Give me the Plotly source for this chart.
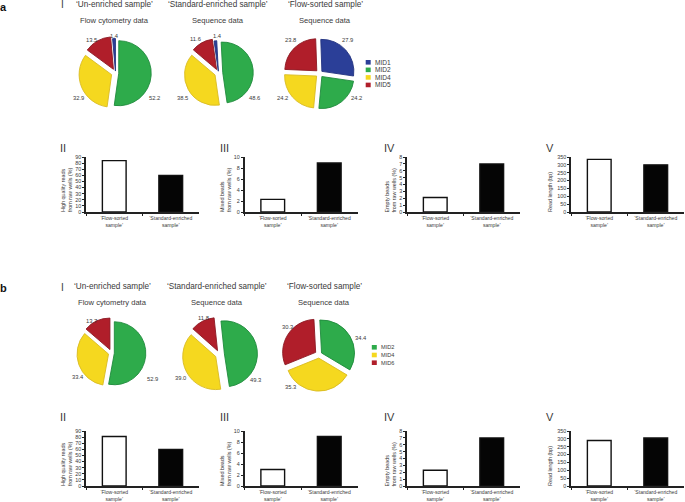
import plotly.graph_objects as go

W, H = 685, 502
FONT = "Liberation Sans, Arial, sans-serif"
TXT = "#3a3a3a"

# ---------- data ----------
COLOURS = {"MID1": "#2b3f98", "MID2": "#2eab4b", "MID4": "#f5d81f", "MID5": "#b01e2a"}
EDGES = {"MID1": "#233380", "MID2": "#1f8a3c", "MID4": "#d9bb22", "MID5": "#8c1822"}

a_labels = ["MID1", "MID2", "MID4", "MID5"]
a_unenriched = [1.4, 52.2, 32.9, 13.5]
a_standard = [1.4, 48.6, 38.5, 11.6]
a_flow = [27.9, 24.2, 24.2, 23.8]

b_labels = ["MID2", "MID4", "MID5"]
b_legend = ["MID2", "MID4", "MID6"]
b_unenriched = [52.9, 33.4, 13.7]
b_standard = [49.3, 39.0, 11.8]
b_flow = [34.4, 35.3, 30.3]

bar_categories = ["‘Flow-sorted<br>sample’", "‘Standard-enriched<br>sample’"]
a_high_quality = [84, 60]
a_mixed = [2.3, 8.9]
a_empty = [2.1, 7.0]
a_length = [335, 300]
b_high_quality = [81, 60]
b_mixed = [3.0, 9.0]
b_empty = [2.3, 7.0]
b_length = [290, 305]

y_titles = ["High quality reads<br>from raw wells (%)", "Mixed beads<br>from raw wells (%)",
            "Empty beads<br>from raw wells (%)", "Read length (bp)"]
roman = ["II", "III", "IV", "V"]
y_ranges = [90, 10, 8, 350]
y_dticks = [10, 2, 1, 50]
# ---------------------------

fig = go.Figure()
ann = []
shapes = []


def px(x):
    return x / W


def py(y):
    return 1 - y / H


def text(x, y, s, size=5.6, color=TXT, bold=False, angle=0, anchor="center", align="center"):
    ann.append(dict(x=px(x), y=py(y), xref="paper", yref="paper", text=f"<b>{s}</b>" if bold else s,
                    showarrow=False, font=dict(size=size, color=color, family=FONT), textangle=angle,
                    xanchor=anchor, yanchor="middle", align=align))


def pie(labels, values, cx, cy, r, pull, rotation):
    half = r * (1 + max(pull))
    fig.add_trace(go.Pie(
        labels=labels, values=values, sort=False, direction="clockwise", rotation=rotation,
        pull=pull, textinfo="none", hoverinfo="label+value", showlegend=False,
        marker=dict(colors=[COLOURS[l] for l in labels],
                    line=dict(color=[EDGES[l] for l in labels], width=0.9)),
        domain=dict(x=[px(cx - half), px(cx + half)], y=[py(cy + half), py(cy - half)]),
    ))


def pie_labels(values, positions):
    for v, (x, y) in zip(values, positions):
        text(x, y, f"{v:.1f}", size=5.8)


# Panel a pies
pie(a_labels, a_unenriched, 115.5, 73, 32.5, [0.06, 0.1, 0.13, 0.13], -5)
pie(a_labels, a_standard, 218.5, 73, 30.5, [0.06, 0.14, 0.13, 0.13], -8)
pie(a_labels, a_flow, 319.5, 73.5, 32, [0.1, 0.12, 0.12, 0.12], -2)
pie_labels(a_unenriched, [(115, 36), (154, 98), (78, 97.5), (91, 40)])
pie_labels(a_standard, [(217, 36), (254, 97.5), (183, 97.5), (196, 39)])
pie_labels(a_flow, [(348, 40), (356, 97.5), (282, 97.5), (290, 40)])

# Panel b pies
pie(b_labels, b_unenriched, 111.5, 353, 31.5, [0.09, 0.1, 0.12], 0)
pie(b_labels, b_standard, 219.5, 354.5, 33, [0.15, 0.13, 0.13], -6)
pie(b_labels, b_flow, 319, 354.5, 33, [0.09, 0.11, 0.12], -3)
pie_labels(b_unenriched, [(152, 379), (78, 377), (91, 321)])
pie_labels(b_standard, [(256, 380), (180, 378), (203, 318)])
pie_labels(b_flow, [(361, 338), (290, 387), (287, 327)])

# Bars
col_x = [86, 244.5, 407, 571]
panel_w = 113


def bars(idx, vals, top, bottom, kx):
    ax = f"xaxis{kx}"
    ay = f"yaxis{kx}"
    fig.add_trace(go.Bar(
        x=bar_categories, y=vals, xaxis=f"x{kx}", yaxis=f"y{kx}", width=0.42, showlegend=False,
        marker=dict(color=["#ffffff", "#050505"], line=dict(color="#111111", width=1.4)),
    ))
    x0 = col_x[idx]
    fig.layout[ax] = dict(domain=[px(x0), px(x0 + panel_w)], anchor=f"y{kx}", type="category",
                          showgrid=False, zeroline=False, showline=True, linecolor="#222222", linewidth=2,
                          ticks="outside", ticklen=1.5, tickwidth=1, tickson="boundaries", tickcolor="#222222",
                          tickfont=dict(size=5.1, color=TXT, family=FONT), tickangle=0, automargin=False)
    fig.layout[ay] = dict(domain=[py(bottom), py(top)], anchor=f"x{kx}", range=[0, y_ranges[idx]],
                          dtick=y_dticks[idx], showgrid=False, zeroline=False, showline=True,
                          linecolor="#222222", linewidth=1.5, ticks="outside", ticklen=2, tickwidth=1,
                          tickcolor="#222222", tickfont=dict(size=5.4, color=TXT, family=FONT), automargin=False)


k = 1
for top, bottom, series in [(157, 212, [a_high_quality, a_mixed, a_empty, a_length]),
                            (431, 486, [b_high_quality, b_mixed, b_empty, b_length])]:
    for i, vals in enumerate(series):
        bars(i, vals, top, bottom, k)
        k += 1

# Y-axis titles and roman numerals
title_x = [66, 225, 389.5, 550]
title_y = [190, 190, 190, 192]
rom_x = [63, 224, 389, 550]
for offset_y, rom_y in [(0, 148), (274, 417)]:
    for i in range(4):
        text(title_x[i], title_y[i] + offset_y, y_titles[i], size=5.4, angle=-90, align="left")
        text(rom_x[i], rom_y, roman[i], size=11)

# Panel letters and headings
text(4, 7, "a", size=11, color="#111111", bold=True)
text(4, 288, "b", size=11, color="#111111", bold=True)
text(62, 5, "I", size=10)
text(62, 287, "I", size=10)
for x, s, sub, y1, y2 in [(114, "‘Un-enriched sample’", "Flow cytometry data", 5, 20.5),
                          (218, "‘Standard-enriched sample’", "Sequence data", 5, 20.5),
                          (325, "‘Flow-sorted sample’", "Sequence data", 5, 20.5),
                          (113, "‘Un-enriched sample’", "Flow cytometry data", 286, 302.5),
                          (217, "‘Standard-enriched sample’", "Sequence data", 286, 302.5),
                          (324, "‘Flow-sorted sample’", "Sequence data", 286, 302.5)]:
    text(x, y1, s, size=8.2)
    text(x, y2, sub, size=7.6)

# Legends
for names, cols, x0, y0, step, tx, fs in [(a_labels, a_labels, 365.7, 62.3, 7.55, 372.7, 6.6),
                                          (b_legend, b_labels, 371.8, 347.3, 7.7, 379.3, 5.6)]:
    for i, (n, c) in enumerate(zip(names, cols)):
        y = y0 + i * step
        shapes.append(dict(type="rect", xref="paper", yref="paper", x0=px(x0), x1=px(x0 + 5),
                           y0=py(y + 2.3), y1=py(y - 2.3), fillcolor=COLOURS[c], line=dict(width=0)))
        text(tx, y, n, size=fs, anchor="left")

fig.update_layout(width=W, height=H, margin=dict(l=0, r=0, t=0, b=0), paper_bgcolor="white",
                  plot_bgcolor="white", annotations=ann, shapes=shapes, font=dict(family=FONT),
                  bargap=0.5)
fig.write_html("out.html", config={"displayModeBar": False},
               post_script="document.body.style.margin='0';document.documentElement.style.overflow='hidden';")
